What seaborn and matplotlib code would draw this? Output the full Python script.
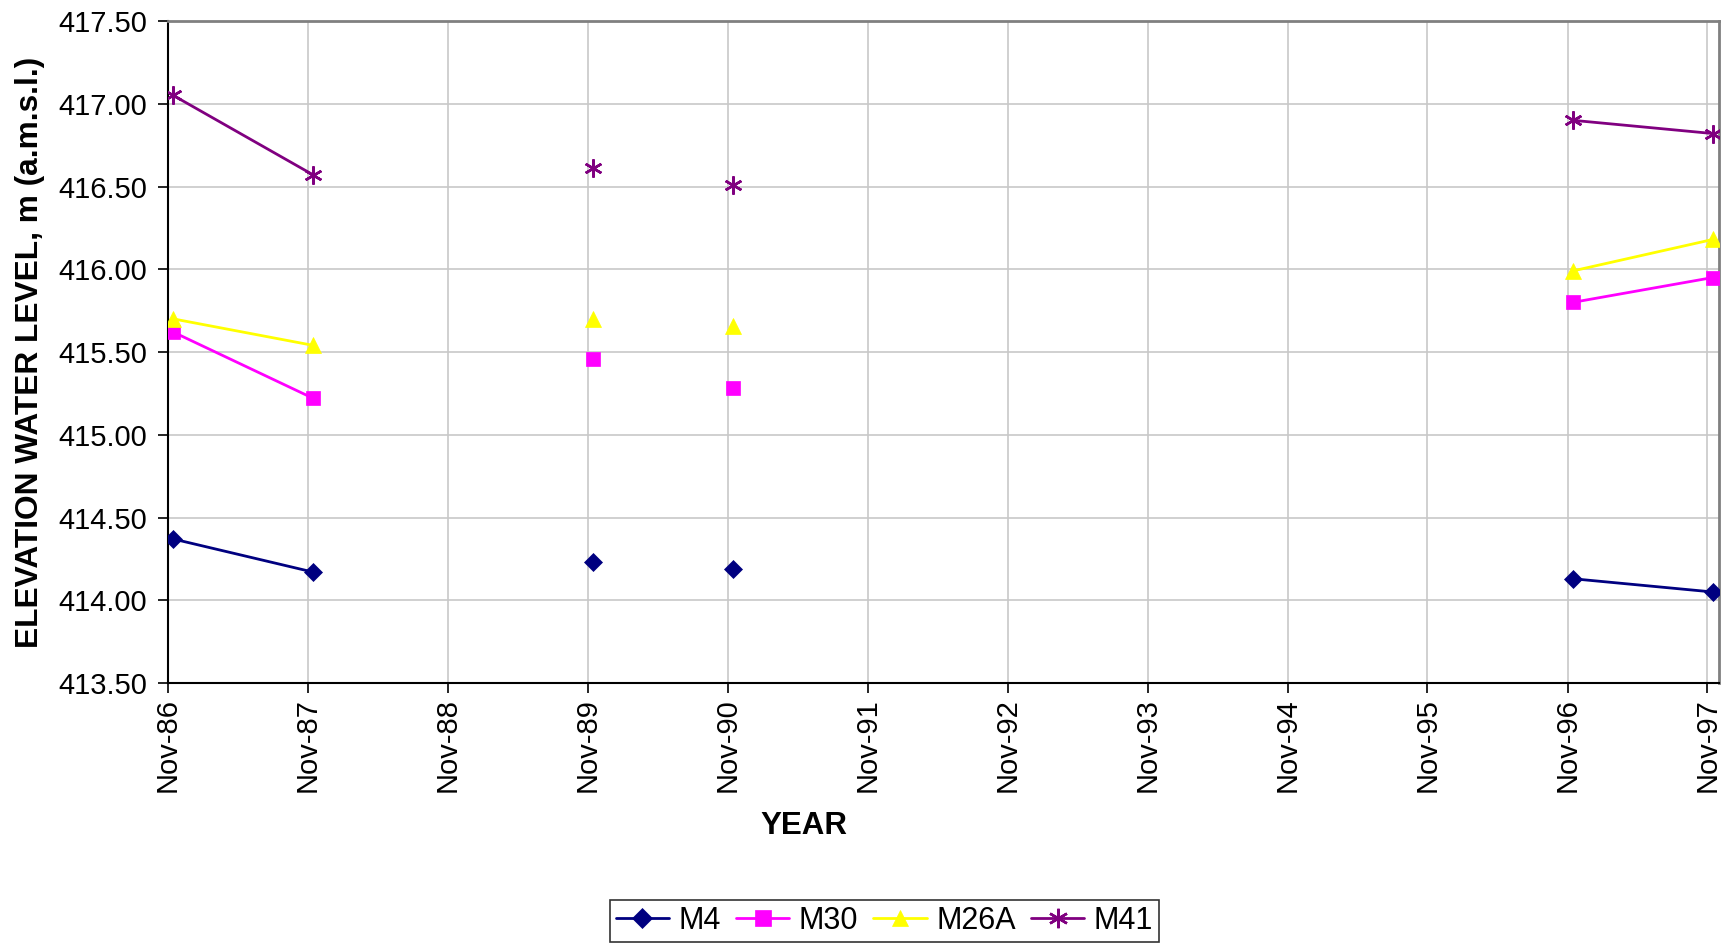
import numpy as np
import pandas as pd
import matplotlib
matplotlib.use("Agg")
import matplotlib.pyplot as plt
import matplotlib.dates as mdates
from matplotlib import font_manager
from matplotlib.lines import Line2D
import seaborn as sns

# ---- data (survey dates; NaN = no reading, breaks the line) ----
survey_dates = ["1986-11-15", "1987-11-15", "1988-11-15", "1989-11-15", "1990-05-15",
                "1990-11-15", "1991-11-15", "1992-11-15", "1993-11-15", "1994-11-15",
                "1995-11-15", "1996-11-15", "1997-11-15"]
nan = np.nan
m4 = [414.37, 414.17, nan, 414.23, nan, 414.19, nan, nan, nan, nan, nan, 414.13, 414.05]
m30 = [415.62, 415.22, nan, 415.46, nan, 415.28, nan, nan, nan, nan, nan, 415.80, 415.95]
m26a = [415.70, 415.54, nan, 415.70, nan, 415.66, nan, nan, nan, nan, nan, 415.99, 416.18]
m41 = [417.05, 416.57, nan, 416.61, nan, 416.51, nan, nan, nan, nan, nan, 416.90, 416.82]

wells = ["M4", "M30", "M26A", "M41"]
series = {"M4": m4, "M30": m30, "M26A": m26a, "M41": m41}
colors = {"M4": "#000080", "M30": "#FF00FF", "M26A": "#FFFF00", "M41": "#800080"}
markers = {"M4": "D", "M30": "s", "M26A": "^", "M41": (6, 2, 0)}
msizes = {"M4": 9, "M30": 10, "M26A": 11, "M41": 13}

y_ticks = [413.5, 414.0, 414.5, 415.0, 415.5, 416.0, 416.5, 417.0, 417.5]

sns.set_theme(style="white")
plt.rcParams["font.family"] = ["Liberation Sans", "DejaVu Sans"]
plt.rcParams["text.color"] = "black"

installed = {f.name for f in font_manager.fontManager.ttflist}
if "Liberation Sans Narrow" in installed:
    leg_font = {"family": "Liberation Sans Narrow", "size": 25}
else:
    leg_font = {"family": "Liberation Sans", "size": 22}

fig = plt.figure(figsize=(17.34, 9.46), dpi=100)
ax = fig.add_axes([0.0969, 0.278, 0.8944, 0.6998])

dates = pd.to_datetime(survey_dates)
for w in wells:
    df = pd.DataFrame({"date": dates, "level": series[w]})
    df["segment"] = df["level"].isna().cumsum()
    df = df.dropna()
    sns.lineplot(data=df, x="date", y="level", units="segment", estimator=None,
                 color=colors[w], marker=markers[w], markersize=msizes[w],
                 markeredgecolor=colors[w], markerfacecolor=colors[w],
                 markeredgewidth=1.8 if w == "M41" else 0.5,
                 linewidth=2, ax=ax, legend=False, zorder=3)

ax.set_xlim(pd.Timestamp("1986-11-01"), pd.Timestamp("1997-12-01"))
ax.set_ylim(413.5, 417.5)
ax.set_yticks(y_ticks)
ax.set_yticklabels([f"{v:.2f}" for v in y_ticks])
ax.xaxis.set_major_locator(mdates.YearLocator(base=1, month=11, day=1))
ax.xaxis.set_major_formatter(mdates.DateFormatter("%b-%y"))
ax.tick_params(axis="x", labelrotation=90, labelsize=21, length=7, width=1.2,
               direction="out", bottom=True, pad=4, colors="black")
ax.tick_params(axis="y", labelsize=21, length=7, width=1.2, direction="out",
               left=True, pad=8, colors="black")
ax.grid(True, color="#C8C8C8", linewidth=1.2)
ax.set_axisbelow(True)
ax.set_xlabel("")
ax.set_ylabel("")
for s in ["left", "bottom"]:
    ax.spines[s].set_color("black")
    ax.spines[s].set_linewidth(1.5)
for s in ["top", "right"]:
    ax.spines[s].set_color("#808080")
    ax.spines[s].set_linewidth(2)

fig.text(0.0172, 0.628, "ELEVATION WATER LEVEL, m (a.m.s.l.)", rotation=90,
         ha="center", va="center", fontsize=22.8, fontweight="bold", color="black")
fig.text(0.4637, 0.127, "YEAR", ha="center", va="center", fontsize=22.5,
         fontweight="bold", color="black")

leg_msizes = {"M4": 10, "M30": 12, "M26A": 12, "M41": 14}
handles = [Line2D([], [], color=colors[w], marker=markers[w], markersize=leg_msizes[w],
                  markeredgecolor=colors[w], markerfacecolor=colors[w],
                  markeredgewidth=1.8 if w == "M41" else 0.5, linewidth=2)
           for w in wells]
leg = fig.legend(handles, wells, loc="center", bbox_to_anchor=(0.51, 0.0264), ncol=4,
                 frameon=True, fancybox=False, edgecolor="black", prop=leg_font,
                 handlelength=1.75, handletextpad=0.3, columnspacing=0.5,
                 borderpad=0.2, borderaxespad=0)
leg.get_frame().set_linewidth(1.2)
for t in leg.get_texts():
    t.set_color("black")

fig.savefig("out.png", dpi=100, facecolor="white")
